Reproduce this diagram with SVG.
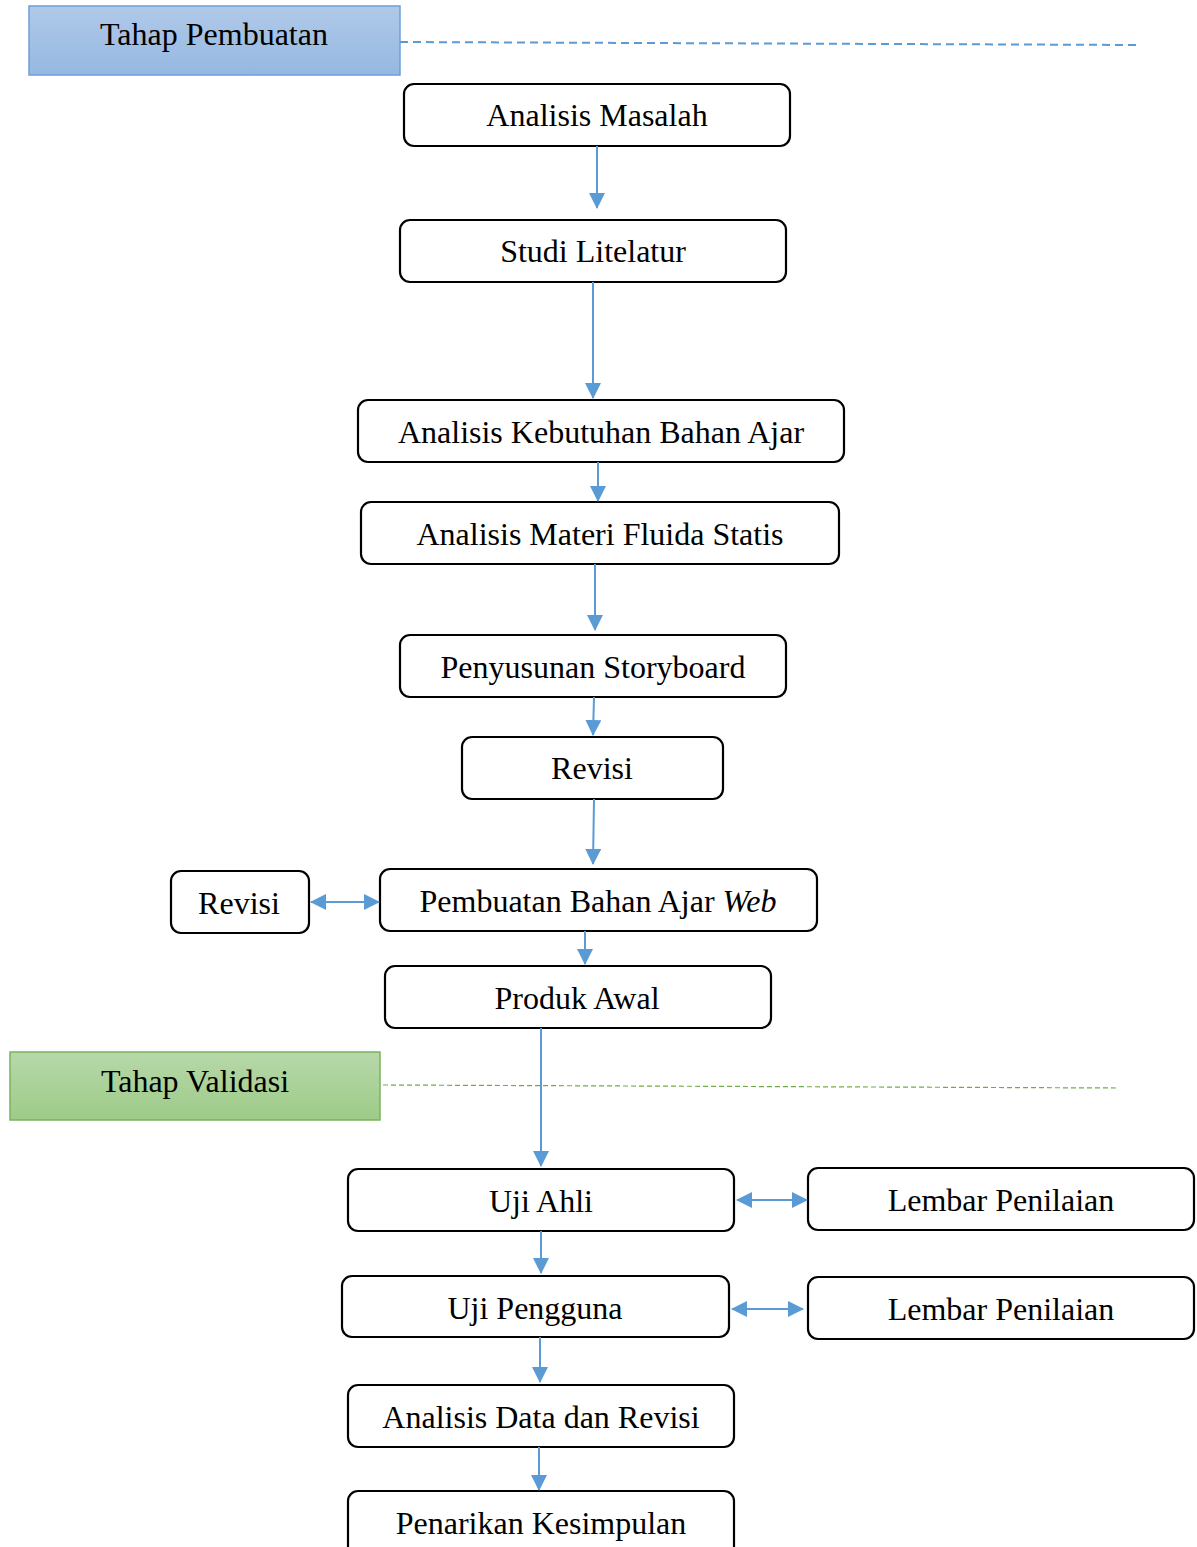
<svg xmlns="http://www.w3.org/2000/svg" width="1197" height="1547" viewBox="0 0 1197 1547">
<style>
.n{fill:#fff;stroke:#000;stroke-width:2.2}
.t{font-family:"Liberation Serif","Times New Roman",serif;font-size:32px;fill:#000;text-anchor:middle}
.c{stroke:#5b9bd5;stroke-width:2;fill:none}
</style>
<defs>
<linearGradient id="gb" x1="0" y1="0" x2="0" y2="1"><stop offset="0" stop-color="#b0c9e9"/><stop offset="1" stop-color="#95b8e1"/></linearGradient>
<linearGradient id="gg" x1="0" y1="0" x2="0" y2="1"><stop offset="0" stop-color="#b7d8aa"/><stop offset="1" stop-color="#9dcb88"/></linearGradient>
<marker id="a" markerUnits="userSpaceOnUse" markerWidth="16" markerHeight="16" viewBox="0 0 16 16" refX="15" refY="8" orient="auto-start-reverse"><path d="M0,0 L16,8 L0,16 Z" fill="#5b9bd5"/></marker>
</defs>
<g id="tahap-pembuatan"><rect x="29" y="6" width="371" height="69" fill="url(#gb)" stroke="#6f9fd8" stroke-width="1.5"/><text class="t" x="214" y="45">Tahap Pembuatan</text></g>
<g id="tahap-validasi"><rect x="10" y="1052" width="370" height="68" fill="url(#gg)" stroke="#7ab35c" stroke-width="1.5"/><text class="t" x="195" y="1092">Tahap Validasi</text></g>
<g id="n1"><rect class="n" x="404" y="84" width="386" height="62" rx="10"/><text class="t" x="597" y="126">Analisis Masalah</text></g>
<g id="n2"><rect class="n" x="400" y="220" width="386" height="62" rx="10"/><text class="t" x="593" y="262">Studi Litelatur</text></g>
<g id="n3"><rect class="n" x="358" y="400" width="486" height="62" rx="10"/><text class="t" x="601" y="443">Analisis Kebutuhan Bahan Ajar</text></g>
<g id="n4"><rect class="n" x="361" y="502" width="478" height="62" rx="10"/><text class="t" x="600" y="545">Analisis Materi Fluida Statis</text></g>
<g id="n5"><rect class="n" x="400" y="635" width="386" height="62" rx="10"/><text class="t" x="593" y="678">Penyusunan Storyboard</text></g>
<g id="n6"><rect class="n" x="462" y="737" width="261" height="62" rx="10"/><text class="t" x="592" y="779">Revisi</text></g>
<g id="n7"><rect class="n" x="380" y="869" width="437" height="62" rx="10"/><text class="t" x="598" y="912">Pembuatan Bahan Ajar <tspan font-style="italic">Web</tspan></text></g>
<g id="n7r"><rect class="n" x="171" y="871" width="138" height="62" rx="10"/><text class="t" x="239" y="914">Revisi</text></g>
<g id="n8"><rect class="n" x="385" y="966" width="386" height="62" rx="10"/><text class="t" x="577" y="1009">Produk Awal</text></g>
<g id="n9"><rect class="n" x="348" y="1169" width="386" height="62" rx="10"/><text class="t" x="541" y="1212">Uji Ahli</text></g>
<g id="n9r"><rect class="n" x="808" y="1168" width="386" height="62" rx="10"/><text class="t" x="1001" y="1211">Lembar Penilaian</text></g>
<g id="n10"><rect class="n" x="342" y="1276" width="387" height="61" rx="10"/><text class="t" x="535" y="1319">Uji Pengguna</text></g>
<g id="n10r"><rect class="n" x="808" y="1277" width="386" height="62" rx="10"/><text class="t" x="1001" y="1320">Lembar Penilaian</text></g>
<g id="n11"><rect class="n" x="348" y="1385" width="386" height="62" rx="10"/><text class="t" x="541" y="1428">Analisis Data dan Revisi</text></g>
<g id="n12"><rect class="n" x="348" y="1491" width="386" height="70" rx="10"/><text class="t" x="541" y="1534">Penarikan Kesimpulan</text></g>
<g id="connectors">
<line x1="400" y1="42" x2="1140" y2="45" stroke="#5b9bd5" stroke-width="2" stroke-dasharray="8,5"/>
<line x1="383" y1="1085" x2="1118" y2="1088" stroke="#70ad47" stroke-width="1.2" stroke-dasharray="5,3"/>
<line class="c" x1="597" y1="146" x2="597" y2="208" marker-end="url(#a)"/>
<line class="c" x1="593" y1="282" x2="593" y2="398" marker-end="url(#a)"/>
<line class="c" x1="598" y1="462" x2="598" y2="501" marker-end="url(#a)"/>
<line class="c" x1="595" y1="564" x2="595" y2="630" marker-end="url(#a)"/>
<line class="c" x1="594" y1="697" x2="593" y2="735" marker-end="url(#a)"/>
<line class="c" x1="594" y1="799" x2="593" y2="864" marker-end="url(#a)"/>
<line class="c" x1="311" y1="902" x2="379" y2="902" marker-start="url(#a)" marker-end="url(#a)"/>
<line class="c" x1="585" y1="931" x2="585" y2="964" marker-end="url(#a)"/>
<line class="c" x1="541" y1="1028" x2="541" y2="1166" marker-end="url(#a)"/>
<line class="c" x1="737" y1="1200" x2="807" y2="1200" marker-start="url(#a)" marker-end="url(#a)"/>
<line class="c" x1="541" y1="1231" x2="541" y2="1273" marker-end="url(#a)"/>
<line class="c" x1="732" y1="1309" x2="803" y2="1309" marker-start="url(#a)" marker-end="url(#a)"/>
<line class="c" x1="540" y1="1337" x2="540" y2="1382" marker-end="url(#a)"/>
<line class="c" x1="539" y1="1447" x2="539" y2="1490" marker-end="url(#a)"/>
</g>
</svg>
